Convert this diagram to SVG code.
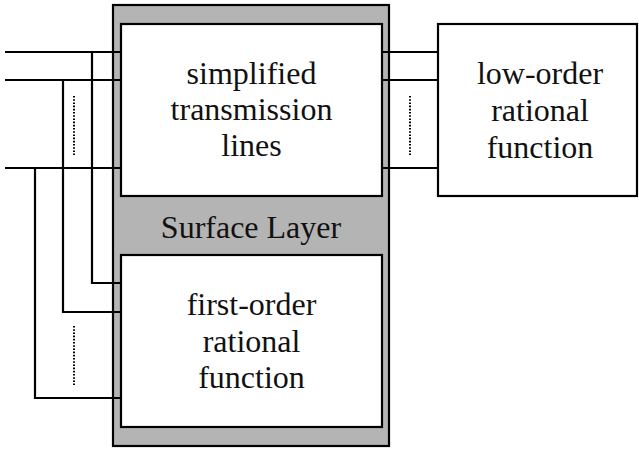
<svg xmlns="http://www.w3.org/2000/svg" width="639" height="451" viewBox="0 0 639 451">
<style>
.box{fill:#ffffff;stroke:#000;stroke-width:2.2}
.layer{fill:#b4b4b4;stroke:#000;stroke-width:2.2}
.wire{fill:none;stroke:#000;stroke-width:2.2}
.dots{fill:none;stroke:#000;stroke-width:2;stroke-dasharray:1.6 1.6}
text{font-family:"Liberation Serif","Times New Roman",serif;font-size:32px;fill:#111;text-anchor:middle}
</style>
<rect width="639" height="451" fill="#fff"/>
<g id="surface-layer">
<rect class="layer" x="113" y="5" width="276" height="441"/>
<text x="251" y="238">Surface Layer</text>
</g>
<g id="connectors">
<path class="wire" d="M5 52H121M5 80H121M5 168H121"/>
<path class="wire" d="M92 52V283H121M63 80V312H121M35 168V398H121"/>
<path class="wire" d="M382 52H438M382 80H438M382 168H438"/>
<path class="dots" d="M74 96V155M74 326V385M410 96V155"/>
</g>
<g id="simplified-tl">
<rect class="box" x="121" y="24" width="261" height="172"/>
<text x="251.5" y="84">simplified</text>
<text x="251.5" y="120">transmission</text>
<text x="251.5" y="156">lines</text>
</g>
<g id="first-order">
<rect class="box" x="121" y="255" width="261" height="172"/>
<text x="251.5" y="315">first-order</text>
<text x="251.5" y="352">rational</text>
<text x="251.5" y="388">function</text>
</g>
<g id="low-order">
<rect class="box" x="438" y="24" width="199" height="172"/>
<text x="540" y="84">low-order</text>
<text x="540" y="121">rational</text>
<text x="540" y="158">function</text>
</g>
</svg>
